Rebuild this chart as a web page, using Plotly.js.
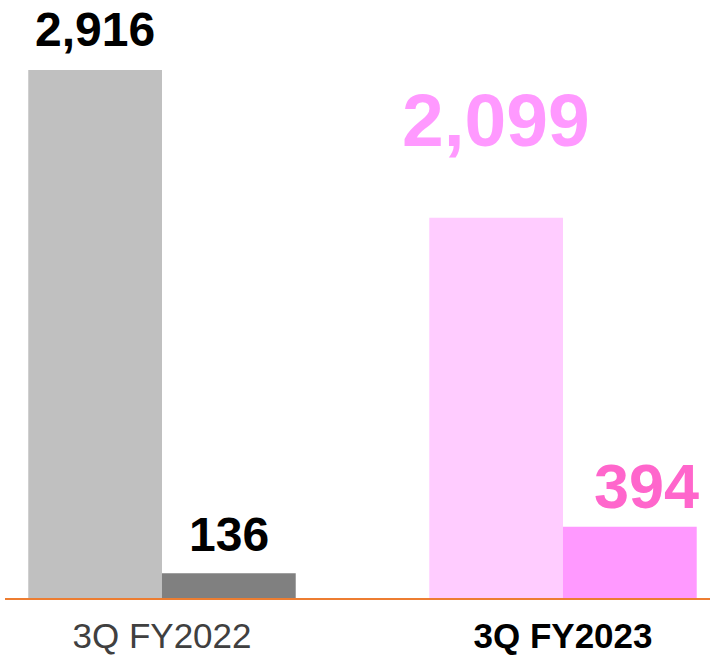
<!DOCTYPE html>
<html><head><meta charset="utf-8">
<script src="https://cdn.plot.ly/plotly-3.0.1.min.js"></script>
<style>html,body{margin:0;padding:0;background:#fff;}</style>
</head><body>
<div id="chart" style="width:710px;height:658px;"></div>
<script>
const categories = ['3Q FY2022', '3Q FY2023'];
const seriesA = [2916, 2099];
const seriesB = [136, 394];
const colorsA = ['#C0C0C0', '#FFCCFF'];
const colorsB = ['#808080', '#FF99FF'];
const labelColorsA = ['#000000', '#FF99FF'];
const labelColorsB = ['#000000', '#FF66CC'];
const labelSizesA = [48, 75];
const labelSizesB = [48, 63];
const labelShiftA = [40, 98];
const labelShiftB = [39, 41];
const labelXShiftB = [0, 17];
const tickText = ['3Q FY2022', '<span style="color:#000000"><b>3Q FY2023</b></span>'];

const bargap = 0.333;
const off = (1 - bargap) / 4;
const fam = 'Liberation Sans, Arial, sans-serif';

const traces = [
  {type: 'bar', x: categories, y: seriesA, marker: {color: colorsA}, hoverinfo: 'none'},
  {type: 'bar', x: categories, y: seriesB, marker: {color: colorsB}, hoverinfo: 'none'}
];

const fmt = v => v.toLocaleString('en-US');
const annotations = [];
categories.forEach((c, i) => {
  annotations.push({x: i - off, y: seriesA[i], xref: 'x', yref: 'y', text: '<b>' + fmt(seriesA[i]) + '</b>',
    showarrow: false, yanchor: 'middle', yshift: labelShiftA[i],
    font: {family: fam, size: labelSizesA[i], color: labelColorsA[i]}});
  annotations.push({x: i + off, y: seriesB[i], xref: 'x', yref: 'y', text: '<b>' + fmt(seriesB[i]) + '</b>',
    showarrow: false, yanchor: 'middle', yshift: labelShiftB[i], xshift: labelXShiftB[i],
    font: {family: fam, size: labelSizesB[i], color: labelColorsB[i]}});
});

const layout = {
  width: 710, height: 658,
  margin: {l: 5, r: 0, t: 0, b: 60},
  paper_bgcolor: '#fff', plot_bgcolor: '#fff',
  barmode: 'group', bargap: bargap, bargroupgap: 0,
  showlegend: false,
  font: {family: fam},
  xaxis: {
    type: 'category', range: [-0.3915, 1.3666],
    showline: true, linecolor: '#ED7D31', linewidth: 1.5,
    ticks: '', showgrid: false, zeroline: false,
    tickvals: categories, ticktext: tickText,
    ticklabelstandoff: 6,
    tickfont: {family: fam, size: 35, color: '#404040'}
  },
  yaxis: {range: [0, 3302], visible: false, showgrid: false, zeroline: false},
  annotations: annotations
};

Plotly.newPlot('chart', traces, layout, {staticPlot: true, displayModeBar: false});
</script>
</body></html>
